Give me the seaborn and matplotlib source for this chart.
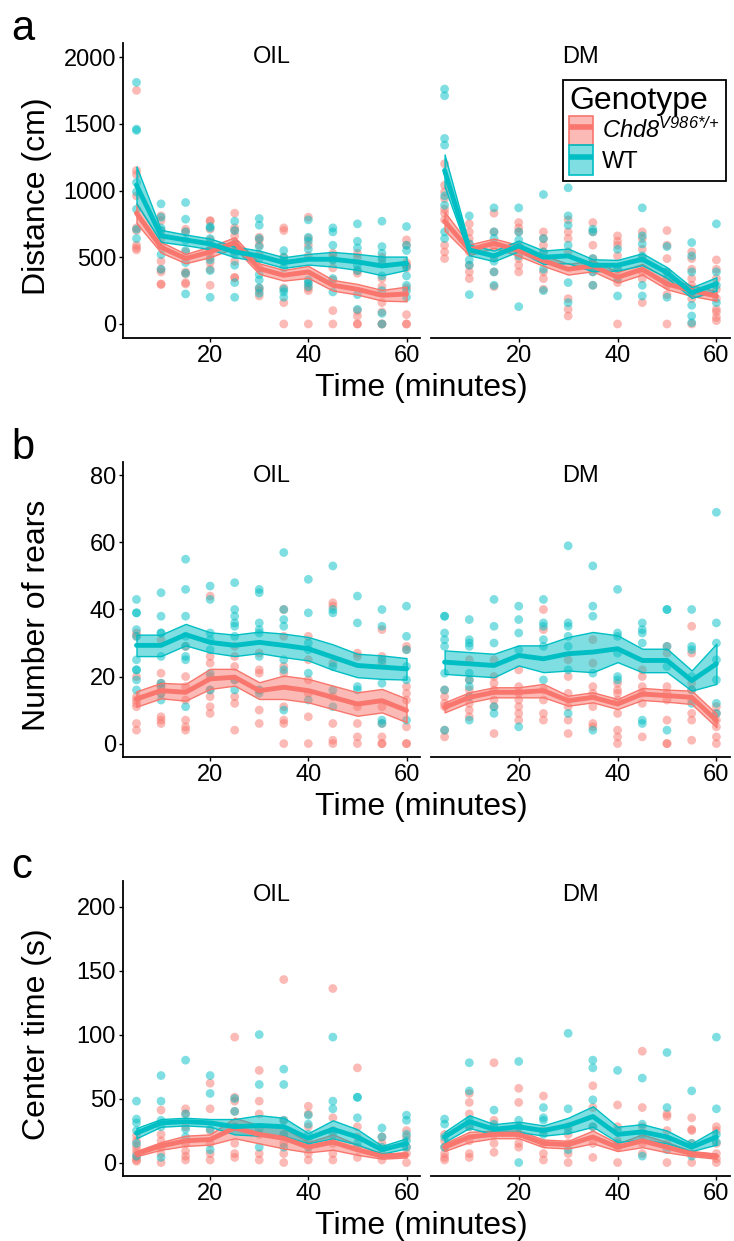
import numpy as np
import pandas as pd
import matplotlib
matplotlib.use('Agg')
import matplotlib.pyplot as plt
import seaborn as sns
from matplotlib.patches import Patch
from matplotlib.lines import Line2D
from matplotlib.legend_handler import HandlerTuple
from matplotlib.colors import to_rgba

times = [5, 10, 15, 20, 25, 30, 35, 40, 45, 50, 55, 60]
treatments = ['OIL', 'DM']
genotypes = ['Chd8', 'WT']
colors = {'Chd8': '#F8766D', 'WT': '#00BFC4'}

# ---- distance (cm), individual animals per time bin ----
dist_oil_wt = [
    [1810, 1460, 1450, 1060, 990, 860, 710, 640],
    [900, 800, 720, 700, 520, 410],
    [910, 785, 690, 625, 550, 460, 380, 225],
    [730, 720, 640, 560, 480, 400, 200],
    [770, 700, 600, 520, 440, 310, 200],
    [790, 740, 640, 580, 490, 370, 330, 270, 230],
    [550, 500, 470, 420, 260, 240, 200],
    [780, 650, 620, 560, 330, 310, 280],
    [720, 690, 590, 480, 340, 240],
    [750, 620, 570, 440, 400, 220, 110],
    [770, 580, 530, 480, 360, 250, 80, 0],
    [730, 590, 550, 430, 360, 290, 250, 200],
]
dist_oil_mut = [
    [1750, 1150, 1120, 960, 720, 700, 590, 570, 555],
    [810, 775, 700, 640, 590, 470, 410, 390, 300, 295],
    [710, 690, 540, 390, 375, 310, 300],
    [775, 770, 710, 630, 540, 500, 460, 410, 290],
    [830, 720, 700, 660, 600, 540, 470, 350, 345],
    [650, 630, 590, 520, 420, 270, 250, 210],
    [720, 700, 500, 470, 270, 160, 0],
    [800, 640, 590, 510, 300, 270, 250, 0],
    [530, 510, 480, 420, 330, 100, 0],
    [530, 500, 400, 380, 100, 60, 0, 0],
    [500, 450, 340, 280, 160, 90, 0, 0],
    [630, 590, 460, 440, 420, 270, 70, 0, 0],
]
dist_dm_wt = [
    [1760, 1710, 1390, 1340, 960, 890, 690, 640],
    [810, 600, 480, 440, 220],
    [870, 690, 640, 470, 390, 290],
    [870, 690, 630, 510, 130],
    [970, 640, 540, 410, 250],
    [1020, 810, 740, 590, 310, 160],
    [710, 690, 490, 390, 290],
    [560, 410, 340, 210],
    [870, 660, 600, 510, 290, 210],
    [580, 390, 340, 200],
    [610, 510, 390, 240, 140, 60, 10],
    [750, 390, 290, 160],
]
dist_dm_mut = [
    [1200, 1040, 990, 940, 860, 830, 780, 590, 540, 490],
    [750, 690, 640, 600, 540, 440, 390, 340],
    [830, 690, 580, 500, 390, 280],
    [760, 720, 690, 590, 490, 440, 390],
    [690, 640, 590, 540, 490, 390, 340, 260],
    [780, 690, 640, 540, 190, 110, 60],
    [760, 690, 590, 490, 390, 290],
    [660, 620, 590, 510, 410, 310, 0],
    [690, 640, 560, 490, 390, 340, 160],
    [700, 590, 490, 390, 290, 220, 0],
    [540, 490, 410, 340, 290, 240, 190, 0],
    [480, 410, 340, 260, 190, 110, 90, 50, 25],
]
dist_oil_wt_mean = [1040, 660, 630, 600, 540, 510, 460, 485, 485, 465, 435, 455]
dist_oil_wt_se = [140, 45, 40, 40, 40, 40, 40, 40, 55, 60, 70, 50]
dist_oil_mut_mean = [830, 575, 490, 540, 610, 415, 365, 390, 290, 260, 215, 225]
dist_oil_mut_se = [75, 40, 35, 40, 40, 40, 40, 45, 40, 40, 40, 55]
dist_dm_wt_mean = [1150, 555, 510, 585, 500, 510, 440, 440, 485, 385, 235, 300]
dist_dm_wt_se = [120, 40, 40, 40, 50, 55, 45, 40, 45, 40, 40, 50]
dist_dm_mut_mean = [770, 555, 605, 550, 475, 410, 435, 350, 410, 300, 250, 210]
dist_dm_mut_se = [70, 40, 35, 40, 40, 40, 40, 40, 40, 40, 40, 35]

# ---- number of rears ----
rears_oil_wt = [
    [43, 39, 39, 34, 32, 25, 22, 22, 19, 16],
    [45, 38, 33, 33, 26, 18, 17, 15, 13],
    [55, 46, 38, 32, 29, 26, 25, 11],
    [47, 43, 33, 31, 28, 21, 16],
    [48, 40, 38, 36, 35, 32, 19, 16],
    [46, 45, 36, 34, 33, 26, 16, 15],
    [57, 40, 37, 35, 25, 22, 10],
    [49, 39, 30, 28, 21, 13],
    [53, 40, 39, 23, 16, 11],
    [44, 36, 17, 16],
    [40, 35, 25, 18, 7, 6],
    [41, 32, 28, 23, 19, 7],
]
rears_oil_mut = [
    [33, 32, 20, 14, 13, 12, 11, 6, 4],
    [31, 21, 18, 17, 15, 8, 7, 6],
    [29, 20, 17, 13, 7, 5, 4],
    [44, 26, 24, 20, 16, 14, 11, 9],
    [29, 26, 23, 19, 14, 12, 4],
    [27, 22, 21, 16, 10, 6],
    [40, 32, 23, 21, 11, 7, 6, 0],
    [32, 25, 19, 15, 8, 0],
    [42, 41, 24, 14, 6, 1, 0],
    [27, 26, 11, 6, 2, 0],
    [34, 26, 24, 11, 6, 2, 0, 0],
    [29, 28, 17, 15, 13, 5, 0, 0],
]
rears_dm_wt = [
    [38, 38, 33, 31, 29, 21, 16, 4],
    [37, 31, 30, 29, 21, 19, 17, 14, 7],
    [43, 35, 30, 11, 9],
    [41, 37, 33, 28, 5],
    [43, 36, 35, 31, 29, 19],
    [59, 36, 35, 32, 29, 22, 9],
    [53, 41, 38, 21, 4],
    [46, 33, 32, 27, 20, 19],
    [36, 34, 33, 30, 7, 6],
    [40, 40, 29, 23, 4],
    [40, 29, 28, 20, 16, 12],
    [69, 36, 30, 25, 19, 12, 9],
]
rears_dm_mut = [
    [16, 14, 12, 11, 4, 2],
    [25, 19, 16, 14, 12, 10, 8],
    [25, 20, 18, 16, 13, 11, 3],
    [22, 17, 15, 13, 11, 9, 7],
    [40, 34, 16, 13, 9, 7],
    [25, 20, 15, 11, 7, 3],
    [31, 24, 17, 15, 11, 6, 5],
    [18, 16, 15, 13, 9, 4, 2, 0],
    [22, 20, 17, 15, 12, 2],
    [29, 27, 17, 15, 13, 7, 0, 0],
    [35, 27, 18, 16, 13, 9, 7, 1],
    [11, 9, 7, 5, 2, 0],
]
rears_oil_wt_mean = [29.3, 29.3, 32.5, 30.2, 29.3, 30.2, 29.3, 28.3, 25.8, 23.3, 22.8, 22.3]
rears_oil_wt_se = [3.2, 3.2, 3.2, 3.0, 3.2, 3.2, 3.5, 3.5, 3.8, 3.5, 3.5, 3.2]
rears_oil_mut_mean = [13.3, 15.8, 15.3, 19.3, 19.8, 15.8, 16.8, 15.8, 13.8, 11.8, 12.8, 9.9]
rears_oil_mut_se = [2.3, 2.3, 2.5, 3.0, 2.5, 2.5, 3.5, 3.5, 3.5, 3.5, 3.5, 3.5]
rears_dm_wt_mean = [24.3, 23.8, 23.3, 26.3, 25.3, 26.8, 27.3, 28.3, 24.8, 24.8, 18.8, 23.8]
rears_dm_wt_se = [3.5, 3.5, 3.5, 3.0, 4.0, 5.0, 6.0, 4.0, 3.5, 3.5, 3.0, 6.0]
rears_dm_mut_mean = [10.8, 13.8, 15.3, 15.3, 15.8, 12.8, 13.8, 11.8, 14.8, 14.3, 13.8, 6.9]
rears_dm_mut_se = [1.5, 1.5, 1.5, 1.5, 2.0, 1.5, 1.5, 1.5, 1.8, 1.8, 2.0, 2.0]

# ---- center time (s) ----
center_oil_wt = [
    [48, 34, 31, 25, 15, 5],
    [68, 48, 33, 28, 4],
    [80, 38, 26, 20],
    [68, 54, 26, 10],
    [50, 40, 28],
    [100, 61, 26, 12],
    [73, 61, 33, 22, 12],
    [37, 30, 22, 12],
    [98, 48, 42, 22],
    [51, 51, 35, 15],
    [27, 20, 12],
    [37, 33, 22, 17, 12],
]
center_oil_mut = [
    [21, 17, 13, 10, 7, 4, 2, 1],
    [41, 22, 17, 12, 7, 0],
    [42, 38, 28, 15, 9, 5, 2],
    [62, 42, 25, 15, 7, 2],
    [98, 51, 48, 40, 28, 15, 7, 4],
    [72, 48, 38, 22, 7, 2],
    [143, 33, 22, 15, 7, 0],
    [44, 38, 28, 17, 7, 2],
    [136, 35, 25, 15, 7, 2],
    [74, 28, 20, 12, 4],
    [20, 15, 7, 2],
    [25, 20, 12, 7, 0],
]
center_dm_wt = [
    [34, 30, 20, 12],
    [78, 56, 33, 28],
    [41, 30, 25],
    [79, 33, 28, 0],
    [43, 35, 33, 22],
    [101, 42, 25, 10],
    [80, 74, 49, 28],
    [72, 25, 15],
    [66, 30, 22, 5],
    [86, 43, 10],
    [56, 15, 5],
    [98, 42, 22, 16],
]
center_dm_mut = [
    [22, 17, 12, 7, 4, 2],
    [54, 47, 38, 28, 17, 7, 4],
    [78, 33, 28, 22, 15, 8],
    [58, 47, 28, 22, 15, 12],
    [52, 25, 15, 7, 2],
    [28, 22, 15, 7, 0],
    [60, 43, 28, 15, 4],
    [45, 28, 17, 12, 0],
    [87, 43, 28, 15, 7],
    [38, 36, 25, 15, 0],
    [35, 26, 25, 15, 7, 0],
    [28, 25, 15, 7, 3, 0],
]
center_oil_wt_mean = [23, 31, 32, 31, 28, 29, 28, 19, 26, 20, 10, 15]
center_oil_wt_se = [4, 3, 3, 3, 6, 8, 7, 4, 7, 6, 3, 4]
center_oil_mut_mean = [7, 13, 17, 18, 27, 22, 19, 12, 16, 10, 5, 6]
center_oil_mut_se = [2, 3, 4, 4, 8, 7, 8, 4, 6, 4, 2, 2]
center_dm_wt_mean = [20, 32, 26, 28, 25, 29, 36, 22, 24, 20, 12, 20]
center_dm_wt_se = [4, 5, 4, 4, 4, 6, 8, 6, 6, 5, 3, 6]
center_dm_mut_mean = [12, 20, 22, 22, 15, 14, 20, 12, 17, 12, 7, 5]
center_dm_mut_se = [3, 4, 3, 3, 3, 3, 5, 3, 5, 4, 2, 2]

sns.set_style('ticks')
plt.rcParams['font.family'] = ['Liberation Sans', 'DejaVu Sans']
plt.rcParams['text.color'] = 'black'
plt.rcParams['axes.labelcolor'] = 'black'
plt.rcParams['mathtext.fontset'] = 'custom'
# only math text in the figure is the italic genotype label
plt.rcParams['mathtext.rm'] = 'Liberation Sans:italic'
plt.rcParams['mathtext.it'] = 'Liberation Sans:italic'


def long_points(pts, genotype):
    rows = []
    for t, vals in zip(times, pts):
        for v in vals:
            rows.append({'time': t, 'value': v, 'genotype': genotype})
    return rows


def draw_facet(ax, wt, mut, wt_mean, wt_se, mut_mean, mut_se):
    df = pd.DataFrame(long_points(mut, 'Chd8') + long_points(wt, 'WT'))
    sns.scatterplot(data=df, x='time', y='value', hue='genotype', palette=colors,
                    alpha=0.5, s=40, linewidth=0, legend=False, ax=ax, zorder=1)
    for g, m, se in [('Chd8', mut_mean, mut_se), ('WT', wt_mean, wt_se)]:
        c = colors[g]
        m = np.array(m, dtype=float)
        se = np.array(se, dtype=float)
        ax.fill_between(times, m - se, m + se, facecolor=to_rgba(c, 0.5),
                        edgecolor=c, linewidth=1.0, zorder=2)
        sns.lineplot(x=times, y=m, color=c, linewidth=3.5, ax=ax, zorder=3)


W, H = 734, 1241
fig = plt.figure(figsize=(W / 100, H / 100), dpi=100)


def px_axes(left, top, right, bottom):
    return fig.add_axes([left / W, 1 - bottom / H, (right - left) / W, (bottom - top) / H])


rows = [
    ('a', 'Distance (cm)', (43, 338), (-105, 2105), [0, 500, 1000, 1500, 2000],
     [(dist_oil_wt, dist_oil_mut, dist_oil_wt_mean, dist_oil_wt_se, dist_oil_mut_mean, dist_oil_mut_se),
      (dist_dm_wt, dist_dm_mut, dist_dm_wt_mean, dist_dm_wt_se, dist_dm_mut_mean, dist_dm_mut_se)]),
    ('b', 'Number of rears', (462, 757), (-4, 84), [0, 20, 40, 60, 80],
     [(rears_oil_wt, rears_oil_mut, rears_oil_wt_mean, rears_oil_wt_se, rears_oil_mut_mean, rears_oil_mut_se),
      (rears_dm_wt, rears_dm_mut, rears_dm_wt_mean, rears_dm_wt_se, rears_dm_mut_mean, rears_dm_mut_se)]),
    ('c', 'Center time (s)', (881, 1176), (-10.5, 220), [0, 50, 100, 150, 200],
     [(center_oil_wt, center_oil_mut, center_oil_wt_mean, center_oil_wt_se, center_oil_mut_mean, center_oil_mut_se),
      (center_dm_wt, center_dm_mut, center_dm_wt_mean, center_dm_wt_se, center_dm_mut_mean, center_dm_mut_se)]),
]

first_dm_ax = None
for letter, ylab, (top, bottom), ylim, yticks, facets in rows:
    for i, (treat, (left, right)) in enumerate(zip(treatments, [(123, 420), (431, 730)])):
        ax = px_axes(left, top, right, bottom)
        draw_facet(ax, *facets[i])
        ax.set_xlim(2.25, 62.75)
        ax.set_ylim(*ylim)
        ax.set_xticks([20, 40, 60])
        ax.set_xlabel('')
        ax.set_ylabel('')
        ax.tick_params(labelsize=17, length=3, width=1, color='black', labelcolor='black', pad=2)
        for s in ['top', 'right']:
            ax.spines[s].set_visible(False)
        ax.spines['bottom'].set_linewidth(1.3)
        ax.spines['left'].set_linewidth(1.3)
        ax.spines['bottom'].set_color('black')
        ax.spines['left'].set_color('black')
        if i == 0:
            ax.set_yticks(yticks)
        else:
            ax.spines['left'].set_visible(False)
            ax.set_yticks([])
            if first_dm_ax is None:
                first_dm_ax = ax
        ax.text(0.5, 0.952, treat, transform=ax.transAxes, ha='center', va='center', fontsize=17)
    fig.text(421 / W, 1 - (bottom + 50) / H, 'Time (minutes)', ha='center', va='center', fontsize=23)
    fig.text(37 / W, 1 - ((top + bottom) / 2 + 6) / H, ylab, rotation=90,
             ha='center', va='center', fontsize=23)
    fig.text(11 / W, 1 - (top - 3) / H, letter, ha='left', va='baseline', fontsize=30)

handles = []
for g in genotypes:
    c = colors[g]
    handles.append((Patch(facecolor=to_rgba(c, 0.5), edgecolor=c, linewidth=1.2),
                    Line2D([0], [0], color=c, linewidth=4, solid_capstyle='butt')))
leg = first_dm_ax.legend(handles, [r'$\mathit{Chd8}^{\mathit{V986}{*}/{+}}$', 'WT'],
                         handler_map={tuple: HandlerTuple(ndivide=1, pad=0)},
                         title='Genotype', loc='upper right', bbox_to_anchor=(0.985, 0.875),
                         fontsize=17, title_fontsize=23, frameon=True, fancybox=False,
                         handlelength=1.0, handleheight=1.55, handletextpad=0.4,
                         labelspacing=0.0, borderpad=0.25, borderaxespad=0)
leg._legend_box.align = 'left'
leg.get_frame().set_edgecolor('black')
leg.get_frame().set_linewidth(1.3)
leg.get_frame().set_alpha(1)

fig.savefig('out.png', dpi=100)
